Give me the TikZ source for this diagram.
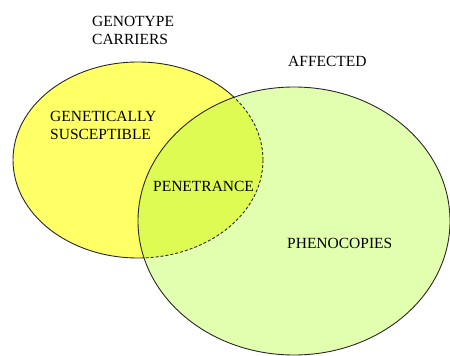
\documentclass[tikz,border=0pt]{standalone}
\usepackage{fontspec}
\setmainfont{Liberation Serif}
\usepackage{tikz}
\usetikzlibrary{positioning}
\definecolor{CarrierYellow}{RGB}{255,255,102}
\definecolor{AffectGreen}{RGB}{226,255,176}
\definecolor{OverlapGreen}{RGB}{222,251,84}
\definecolor{RimGray}{RGB}{40,40,40}
\tikzset{
  rim/.style={draw=RimGray,line width=0.9pt},
  hiddenrim/.style={draw=RimGray,line width=0.9pt,densely dashed},
  lbl/.style={inner sep=0pt,anchor=base west,align=left,
    font=\fontsize{15.5}{18}\selectfont},
}

\begin{document}
\begin{tikzpicture}[x=1pt,y=-1pt]
\useasboundingbox (0,0) rectangle (450,356);
\coordinate (cc) at (138,160);
\coordinate (ac) at (294,221);
% genotype carriers
\fill[CarrierYellow] (cc) ellipse [x radius=125pt,y radius=98pt];
\draw[rim] (cc) ellipse [x radius=125pt,y radius=98pt];
% affected
\fill[AffectGreen] (ac) ellipse [x radius=156pt,y radius=134pt];
\begin{scope}
\clip (cc) ellipse [x radius=125pt,y radius=98pt];
\fill[OverlapGreen] (ac) ellipse [x radius=156pt,y radius=134pt];
\end{scope}
\begin{scope}
\clip (ac) ellipse [x radius=156pt,y radius=134pt];
\draw[hiddenrim] (cc) ellipse [x radius=125pt,y radius=98pt];
\end{scope}
\draw[rim] (ac) ellipse [x radius=156pt,y radius=134pt];
% labels
\node[lbl] (carriers) at (92,45) {GENOTYPE\\CARRIERS};
\node[lbl] (affected) at (288,66) {AFFECTED};
\node[lbl] (suscept) at (50,139) {GENETICALLY\\SUSCEPTIBLE};
\node[lbl] (penetr) at (153,191) {PENETRANCE};
\node[lbl] (phenoc) at (287,248) {PHENOCOPIES};
\end{tikzpicture}
\end{document}
